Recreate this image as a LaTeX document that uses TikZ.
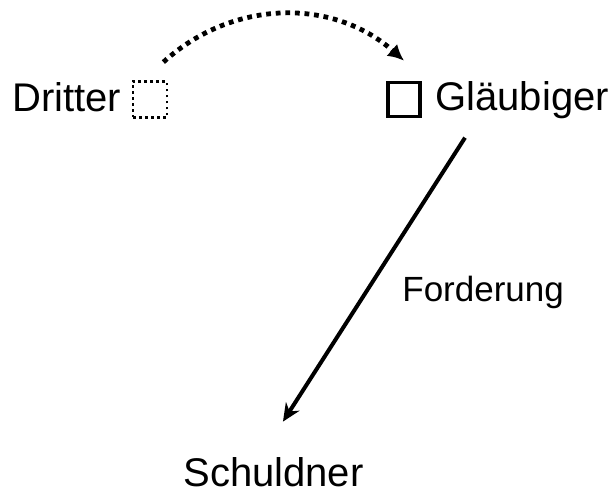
\documentclass[tikz,border=0pt]{standalone}
\usepackage{fontspec}
\setmainfont{Liberation Sans}
\usetikzlibrary{arrows.meta}
\begin{document}
\begin{tikzpicture}[x=0.5pt,y=-0.5pt,
  txt/.style={inner sep=0pt,anchor=base west,font=\fontsize{20pt}{24pt}\selectfont},
  smalltxt/.style={inner sep=0pt,anchor=base west,font=\fontsize{17.5pt}{21pt}\selectfont},
  dotbox/.style={draw,line width=1.4pt,dash pattern=on 1.4pt off 1.6pt,minimum width=17pt,minimum height=18pt,inner sep=0pt},
  fullbox/.style={draw,line width=1.8pt,minimum width=16pt,minimum height=17pt,inner sep=0pt}]

\useasboundingbox (0,0) rectangle (611,496);

%personen
\node[txt] (dritter) at (12,112) {Dritter};
\node[dotbox] (dbox) at (150,99.5) {};
\node[fullbox] (gbox) at (404,99.5) {};
\node[txt] (glaeubiger) at (435,111) {Gläubiger};
\node[txt] (schuldner) at (183,487) {Schuldner};

%forderung
\node[smalltxt] (forderung) at (402,302) {Forderung};
\draw[line width=2pt,-{Stealth[length=9pt,width=8pt]}] ([xshift=15pt,yshift=-9pt]glaeubiger.south west) -- ([xshift=4.75pt,yshift=18pt]schuldner.north);

%abtretung
\draw[line width=2.4pt,dash pattern=on 2.4pt off 2.4pt,-{Latex[length=8pt,width=8pt]}] ([xshift=-2.5pt,yshift=9pt]dbox.north east) to[bend left=42] ([yshift=10pt]gbox.north);

\end{tikzpicture}
\end{document}
